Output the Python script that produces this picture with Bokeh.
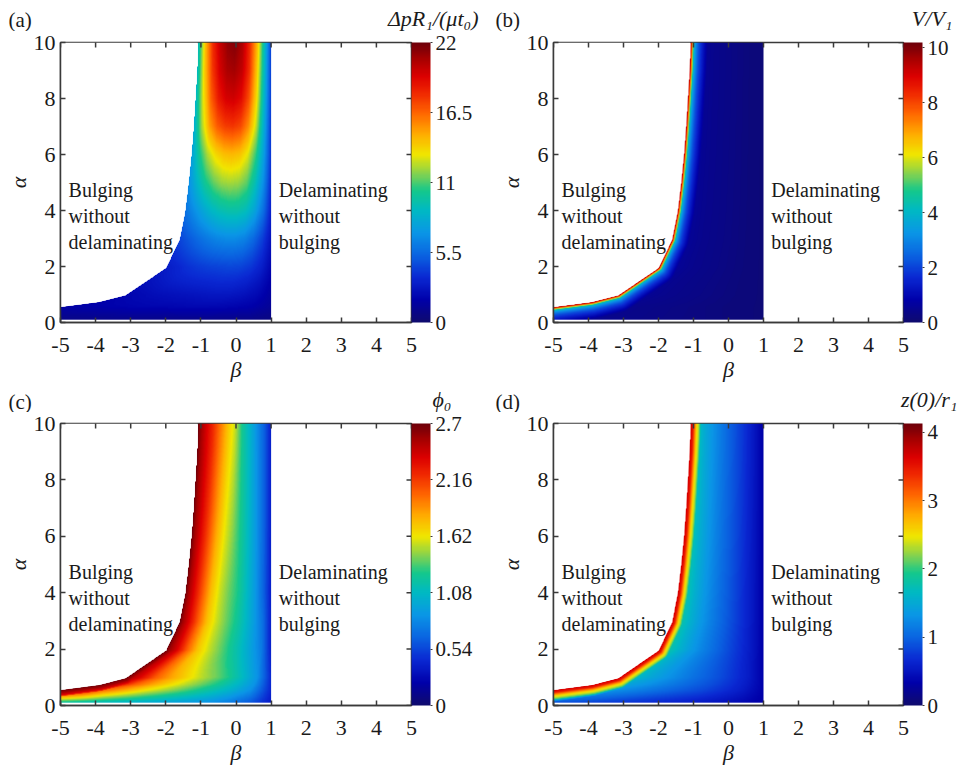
import numpy as np
from bokeh.plotting import figure
from bokeh.models import (LinearColorMapper, ColorBar, FixedTicker, LinearAxis, Range1d)
from bokeh.layouts import column, row
from bokeh.embed import file_html
from bokeh.resources import INLINE
from bokeh.core.properties import value

# ---------------- data ----------------
x_ticks = [-5, -4, -3, -2, -1, 0, 1, 2, 3, 4, 5]
x_tick_labels = ["-5", "-4", "-3", "-2", "-1", "0", "1", "2", "3", "4", "5"]
y_ticks = [0, 2, 4, 6, 8, 10]
x_lim = [-5, 5]
y_lim = [0, 10]

# left boundary of the bulging + delaminating region (beta as function of alpha)
boundary_alpha = [0.55, 0.73, 0.97, 1.95, 2.95, 3.96, 5.0, 6.0, 7.0, 8.0, 9.0, 10.0]
boundary_beta = [-5.0, -3.9, -3.15, -2.0, -1.62, -1.46, -1.36, -1.28, -1.22, -1.17, -1.12, -1.09]
beta_left = -5.0
beta_right = 1.0
alpha_bottom = 0.1
alpha_top = 10.0

# field values, read along rows of alpha, at fractions s of the way from the
# left boundary (s=0) to beta = 1 (s=1)
s_cols = [0.0, 0.1, 0.2, 0.3, 0.4, 0.5, 0.6, 0.7, 0.8, 0.9, 1.0]

# (a) Delta p R1 / (mu t0)
rows_a = [0.1, 0.55, 1, 2, 3, 4, 5, 6, 7, 8, 9, 10]
vals_a = [
    [0.8, 0.8, 0.85, 0.9, 0.9, 0.9, 0.9, 0.9, 0.85, 0.8, 0.6],
    [1.6, 1.7, 1.8, 1.9, 2.0, 2.0, 2.1, 2.1, 2.0, 1.8, 1.2],
    [2.0, 2.2, 2.4, 2.5, 2.6, 2.7, 2.8, 2.8, 2.6, 2.2, 1.4],
    [3.0, 3.4, 3.8, 4.1, 4.3, 4.4, 4.5, 4.4, 4.0, 3.2, 1.9],
    [4.4, 5.0, 5.6, 6.1, 6.5, 6.7, 6.7, 6.4, 5.5, 4.2, 2.4],
    [5.8, 6.8, 7.8, 8.7, 9.3, 9.6, 9.6, 9.1, 7.8, 5.7, 2.9],
    [6.8, 8.6, 10.2, 11.3, 12.0, 12.2, 12.0, 11.2, 9.3, 6.7, 3.2],
    [7.5, 10.2, 12.3, 13.6, 14.3, 14.5, 14.2, 13.0, 10.7, 7.4, 3.4],
    [8.0, 12.0, 15.0, 16.7, 17.5, 17.7, 17.2, 15.5, 12.5, 8.0, 3.4],
    [8.5, 13.0, 16.5, 18.5, 19.5, 19.7, 19.0, 17.0, 13.5, 8.5, 3.5],
    [8.8, 14.0, 17.5, 19.5, 20.6, 20.8, 20.0, 17.8, 14.0, 8.8, 3.5],
    [9.0, 14.5, 18.0, 20.0, 21.2, 21.5, 20.5, 18.0, 14.5, 9.0, 3.5],
]
# (b) V / V1
rows_b = [0.1, 0.55, 10]
vals_b = [
    [0.5, 0.48, 0.45, 0.4, 0.36, 0.32, 0.28, 0.25, 0.2, 0.17, 0.15],
    [1.0, 0.7, 0.55, 0.45, 0.4, 0.35, 0.3, 0.25, 0.2, 0.17, 0.15],
    [1.0, 0.7, 0.55, 0.45, 0.4, 0.35, 0.3, 0.25, 0.2, 0.17, 0.15],
]
# (c) phi0
rows_c = [0.1, 0.55, 1, 2, 4, 7, 10]
vals_c = [
    [1.2, 1.15, 1.1, 1.05, 1.0, 0.95, 0.9, 0.85, 0.75, 0.6, 0.35],
    [2.6, 2.4, 2.05, 1.85, 1.65, 1.5, 1.35, 1.2, 1.05, 0.85, 0.4],
    [2.6, 2.35, 2.05, 1.85, 1.7, 1.55, 1.42, 1.28, 1.08, 0.85, 0.4],
    [2.65, 2.38, 2.02, 1.72, 1.55, 1.4, 1.25, 1.1, 0.93, 0.75, 0.35],
    [2.65, 2.35, 2.05, 1.75, 1.55, 1.4, 1.28, 1.1, 0.9, 0.65, 0.35],
    [2.65, 2.4, 2.15, 1.88, 1.65, 1.48, 1.27, 1.08, 0.87, 0.64, 0.35],
    [2.65, 2.42, 2.22, 1.98, 1.75, 1.55, 1.25, 1.05, 0.83, 0.62, 0.35],
]
# (d) z(0) / r1
rows_d = [0.1, 0.55, 1, 2, 4, 10]
vals_d = [
    [0.9, 0.85, 0.8, 0.75, 0.7, 0.65, 0.6, 0.55, 0.48, 0.4, 0.3],
    [1.8, 1.55, 1.42, 1.3, 1.19, 1.08, 0.97, 0.86, 0.72, 0.56, 0.33],
    [2.0, 1.7, 1.5, 1.36, 1.23, 1.1, 0.98, 0.86, 0.71, 0.55, 0.33],
    [2.1, 1.8, 1.57, 1.38, 1.22, 1.08, 0.94, 0.8, 0.66, 0.5, 0.32],
    [2.1, 1.8, 1.55, 1.36, 1.2, 1.05, 0.92, 0.78, 0.63, 0.48, 0.3],
    [2.1, 1.75, 1.5, 1.32, 1.17, 1.03, 0.9, 0.77, 0.62, 0.47, 0.3],
]
# values right at the boundary edge (distance from the boundary in pixels)
edge_dist_b = [0, 1, 2, 3, 5, 8, 12, 20]
edge_vals_b = [9.5, 8.8, 6.5, 4.5, 3.2, 2.2, 1.4, 0.0]
edge_dist_c = [0, 3, 6, 9]
edge_vals_c = [2.7, 2.55, 2.3, 0.0]
edge_dist_d = [0, 2.5, 4, 6, 9, 14]
edge_vals_d = [3.7, 3.5, 3.1, 2.6, 2.15, 0.0]

# colour bars
cb_high = [22, 10.2, 2.7, 4.13]
cb_ticks = [[0, 5.5, 11, 16.5, 22], [0, 2, 4, 6, 8, 10],
            [0, 0.54, 1.08, 1.62, 2.16, 2.7], [0, 1, 2, 3, 4]]
cb_labels = [["0", "5.5", "11", "16.5", "22"], ["0", "2", "4", "6", "8", "10"],
             ["0", "0.54", "1.08", "1.62", "2.16", "2.7"], ["0", "1", "2", "3", "4"]]
cb_titles = ["ΔpR₁/(μt₀)", "V/V₁", "ϕ₀", "z(0)/r₁"]
panel_tags = ["(a)", "(b)", "(c)", "(d)"]
left_text = "Bulging\nwithout\ndelaminating"
right_text = "Delaminating\nwithout\nbulging"

# ---------------- styling ----------------
FONT = "Liberation Serif"
AX = "#3a3a3a"
TXT = "#1a1a1a"
PAGE_W = 975

# jet-like colour map as it appears in the figure (position, r, g, b)
CMAP_ANCHORS = [
    (0.00, 15, 10, 110), (0.08, 0, 0, 170), (0.16, 10, 40, 210), (0.24, 10, 100, 225),
    (0.32, 10, 150, 230), (0.40, 0, 185, 195), (0.47, 20, 200, 140), (0.53, 130, 210, 80),
    (0.60, 240, 230, 0), (0.67, 255, 175, 0), (0.75, 255, 100, 0), (0.82, 240, 40, 0),
    (0.88, 220, 0, 0), (0.94, 170, 0, 0), (1.00, 110, 0, 10),
]


def make_palette(n=256):
    pos = [a[0] for a in CMAP_ANCHORS]
    x = np.linspace(0, 1, n)
    chans = [np.interp(x, pos, [a[k] for a in CMAP_ANCHORS]) for k in (1, 2, 3)]
    return ["#%02x%02x%02x" % (int(round(r)), int(round(g)), int(round(b)))
            for r, g, b in zip(*chans)]


PALETTE = make_palette()


def build_field(rows, vals, edge_d, edge_v, ppx, ppy, res=2):
    nx = int(round((beta_right - beta_left) * ppx * res))
    ny = int(round((alpha_top - alpha_bottom) * ppy * res))
    bx = beta_left + (np.arange(nx) + 0.5) / nx * (beta_right - beta_left)
    ay = alpha_bottom + (np.arange(ny) + 0.5) / ny * (alpha_top - alpha_bottom)
    B, A = np.meshgrid(bx, ay)
    L = np.interp(ay, boundary_alpha, boundary_beta)
    S = (B - L[:, None]) / (beta_right - L[:, None])
    tbl = np.array(vals, dtype=float)
    T = np.stack([np.interp(ay, rows, tbl[:, j]) for j in range(tbl.shape[1])], axis=1)
    G = np.empty_like(B)
    for i in range(ny):
        G[i] = np.interp(S[i], s_cols, T[i])
    if edge_d is not None:
        px = np.array(boundary_beta) * ppx
        py = np.array(boundary_alpha) * ppy
        X = B * ppx
        Y = A * ppy
        D = np.full(B.shape, np.inf)
        for k in range(len(px) - 1):
            x0, y0, x1, y1 = px[k], py[k], px[k + 1], py[k + 1]
            dx, dy = x1 - x0, y1 - y0
            t = np.clip(((X - x0) * dx + (Y - y0) * dy) / (dx * dx + dy * dy), 0, 1)
            dd = np.hypot(X - (x0 + t * dx), Y - (y0 + t * dy))
            D = np.minimum(D, dd)
        E = np.interp(D, edge_d, edge_v, right=0.0)
        G = np.maximum(G, E)
    G[S < 0] = np.nan
    return G.astype(np.float32)


# panel geometry: (width, height, left, right, top, bottom, gap to colour bar)
geo = [
    (487, 354, 60, 76, 11, 63, 15),
    (488, 354, 66, 72, 11, 63, 17),
    (487, 359, 60, 76, 11, 66, 15),
    (488, 359, 66, 72, 11, 66, 17),
]
fields = [(rows_a, vals_a, None, None), (rows_b, vals_b, edge_dist_b, edge_vals_b),
          (rows_c, vals_c, edge_dist_c, edge_vals_c), (rows_d, vals_d, edge_dist_d, edge_vals_d)]

# header strips (panel tag and colour-bar title), positions in pixels of the strip
header_heights = [31, 27]
tag_xy = [(8, 12), (495, 12), (8, 11), (495, 11)]
title_xy = [(478, 13), (952, 13), (451, 13), (957, 13)]


def make_header(k):
    hh = header_heights[k]
    h = figure(width=PAGE_W, height=hh, x_range=Range1d(0, PAGE_W), y_range=Range1d(0, hh),
               output_backend="svg", toolbar_location=None, min_border=0,
               x_axis_location=None, y_axis_location=None)
    h.grid.visible = False
    h.outline_line_color = None
    h.background_fill_color = "white"
    for i in (2 * k, 2 * k + 1):
        tx, ty = tag_xy[i]
        h.text(x=[tx], y=[ty], text=[panel_tags[i]], text_font=value(FONT),
               text_font_size="21px", text_color=TXT, text_align="left", text_baseline="middle")
        cx, cy = title_xy[i]
        h.text(x=[cx], y=[cy], text=[cb_titles[i]], text_font=value(FONT),
               text_font_size="22px", text_font_style="italic", text_color=TXT,
               text_align="right", text_baseline="middle")
    return h


def make_panel(i):
    W, H, bl, br, bt, bb, gap = geo[i]
    fw = W - bl - br
    fh = H - bt - bb
    p = figure(width=W, height=H, x_range=Range1d(*x_lim), y_range=Range1d(*y_lim),
               output_backend="svg", toolbar_location=None,
               min_border_left=bl, min_border_right=br, min_border_top=bt, min_border_bottom=bb)
    p.grid.visible = False
    p.background_fill_color = "white"
    p.border_fill_color = "white"
    p.outline_line_color = AX
    p.outline_line_width = 1.5

    mapper = LinearColorMapper(palette=PALETTE, low=0, high=cb_high[i], nan_color="rgba(0,0,0,0)")
    rows, vals, ed, ev = fields[i]
    img = build_field(rows, vals, ed, ev, fw / (x_lim[1] - x_lim[0]), fh / (y_lim[1] - y_lim[0]))
    p.image(image=[img], x=beta_left, y=alpha_bottom, dw=beta_right - beta_left,
            dh=alpha_top - alpha_bottom, color_mapper=mapper)
    p.patch(x=[beta_left] + boundary_beta + [beta_left],
            y=[boundary_alpha[0]] + boundary_alpha + [alpha_top],
            fill_color="white", line_color=None)

    # mirrored inner ticks on the top and right edges of the box
    p.scatter(x=x_ticks, y=[y_lim[1]] * len(x_ticks), marker="dash", angle=np.pi / 2,
              size=10, line_color=AX, line_width=1.5)
    p.scatter(x=[x_lim[1]] * len(y_ticks), y=y_ticks, marker="dash",
              size=10, line_color=AX, line_width=1.5)

    p.text(x=[-4.77], y=[5.12], text=[left_text], text_font=value(FONT), text_font_size="20px",
           text_color=TXT, text_align="left", text_baseline="top", text_line_height=1.17)
    p.text(x=[1.22], y=[5.12], text=[right_text], text_font=value(FONT), text_font_size="20px",
           text_color=TXT, text_align="left", text_baseline="top", text_line_height=1.17)

    for ax in (p.xaxis[0], p.yaxis[0]):
        ax.axis_line_color = AX
        ax.axis_line_width = 1.5
        ax.major_tick_line_color = AX
        ax.major_tick_line_width = 1.5
        ax.major_tick_in = 5
        ax.major_tick_out = 0
        ax.minor_tick_line_color = None
        ax.major_label_text_font = FONT
        ax.major_label_text_font_size = "22px"
        ax.major_label_text_color = TXT
        ax.axis_label_text_font = FONT
        ax.axis_label_text_font_size = "22px"
        ax.axis_label_text_font_style = "italic"
        ax.axis_label_text_color = TXT
    p.xaxis[0].ticker = FixedTicker(ticks=x_ticks)
    p.xaxis[0].major_label_overrides = {t: l for t, l in zip(x_ticks, x_tick_labels)}
    p.yaxis[0].ticker = FixedTicker(ticks=y_ticks)
    p.xaxis[0].axis_label = "β"
    p.yaxis[0].axis_label = "α"
    p.xaxis[0].major_label_standoff = 15
    p.xaxis[0].axis_label_standoff = 2
    p.yaxis[0].major_label_standoff = 5
    p.yaxis[0].axis_label_standoff = 0

    # empty spacer between the box and the colour bar
    spacer = LinearAxis(ticker=FixedTicker(ticks=[]), axis_line_color=None,
                        major_tick_out=gap, major_tick_in=0, major_label_standoff=0,
                        axis_label_standoff=0, major_tick_line_color=None,
                        minor_tick_line_color=None, minor_tick_out=0)
    p.add_layout(spacer, "right")

    cb = ColorBar(color_mapper=mapper, ticker=FixedTicker(ticks=cb_ticks[i]),
                  major_label_overrides={t: l for t, l in zip(cb_ticks[i], cb_labels[i])},
                  width=19, height=fh, padding=0, margin=0, location="top_left",
                  major_label_text_font=FONT, major_label_text_font_size="21px",
                  major_label_text_color=TXT, major_tick_in=0, major_tick_out=2,
                  major_tick_line_color=AX, minor_tick_line_color=None,
                  bar_line_color=None, border_line_color=None, background_fill_color=None,
                  label_standoff=3)
    p.add_layout(cb, "right")
    return p


panels = [make_panel(i) for i in range(4)]
layout = column(make_header(0), row(panels[0], panels[1]),
                make_header(1), row(panels[2], panels[3]))

open("out.html", "w").write(file_html(layout, INLINE))
